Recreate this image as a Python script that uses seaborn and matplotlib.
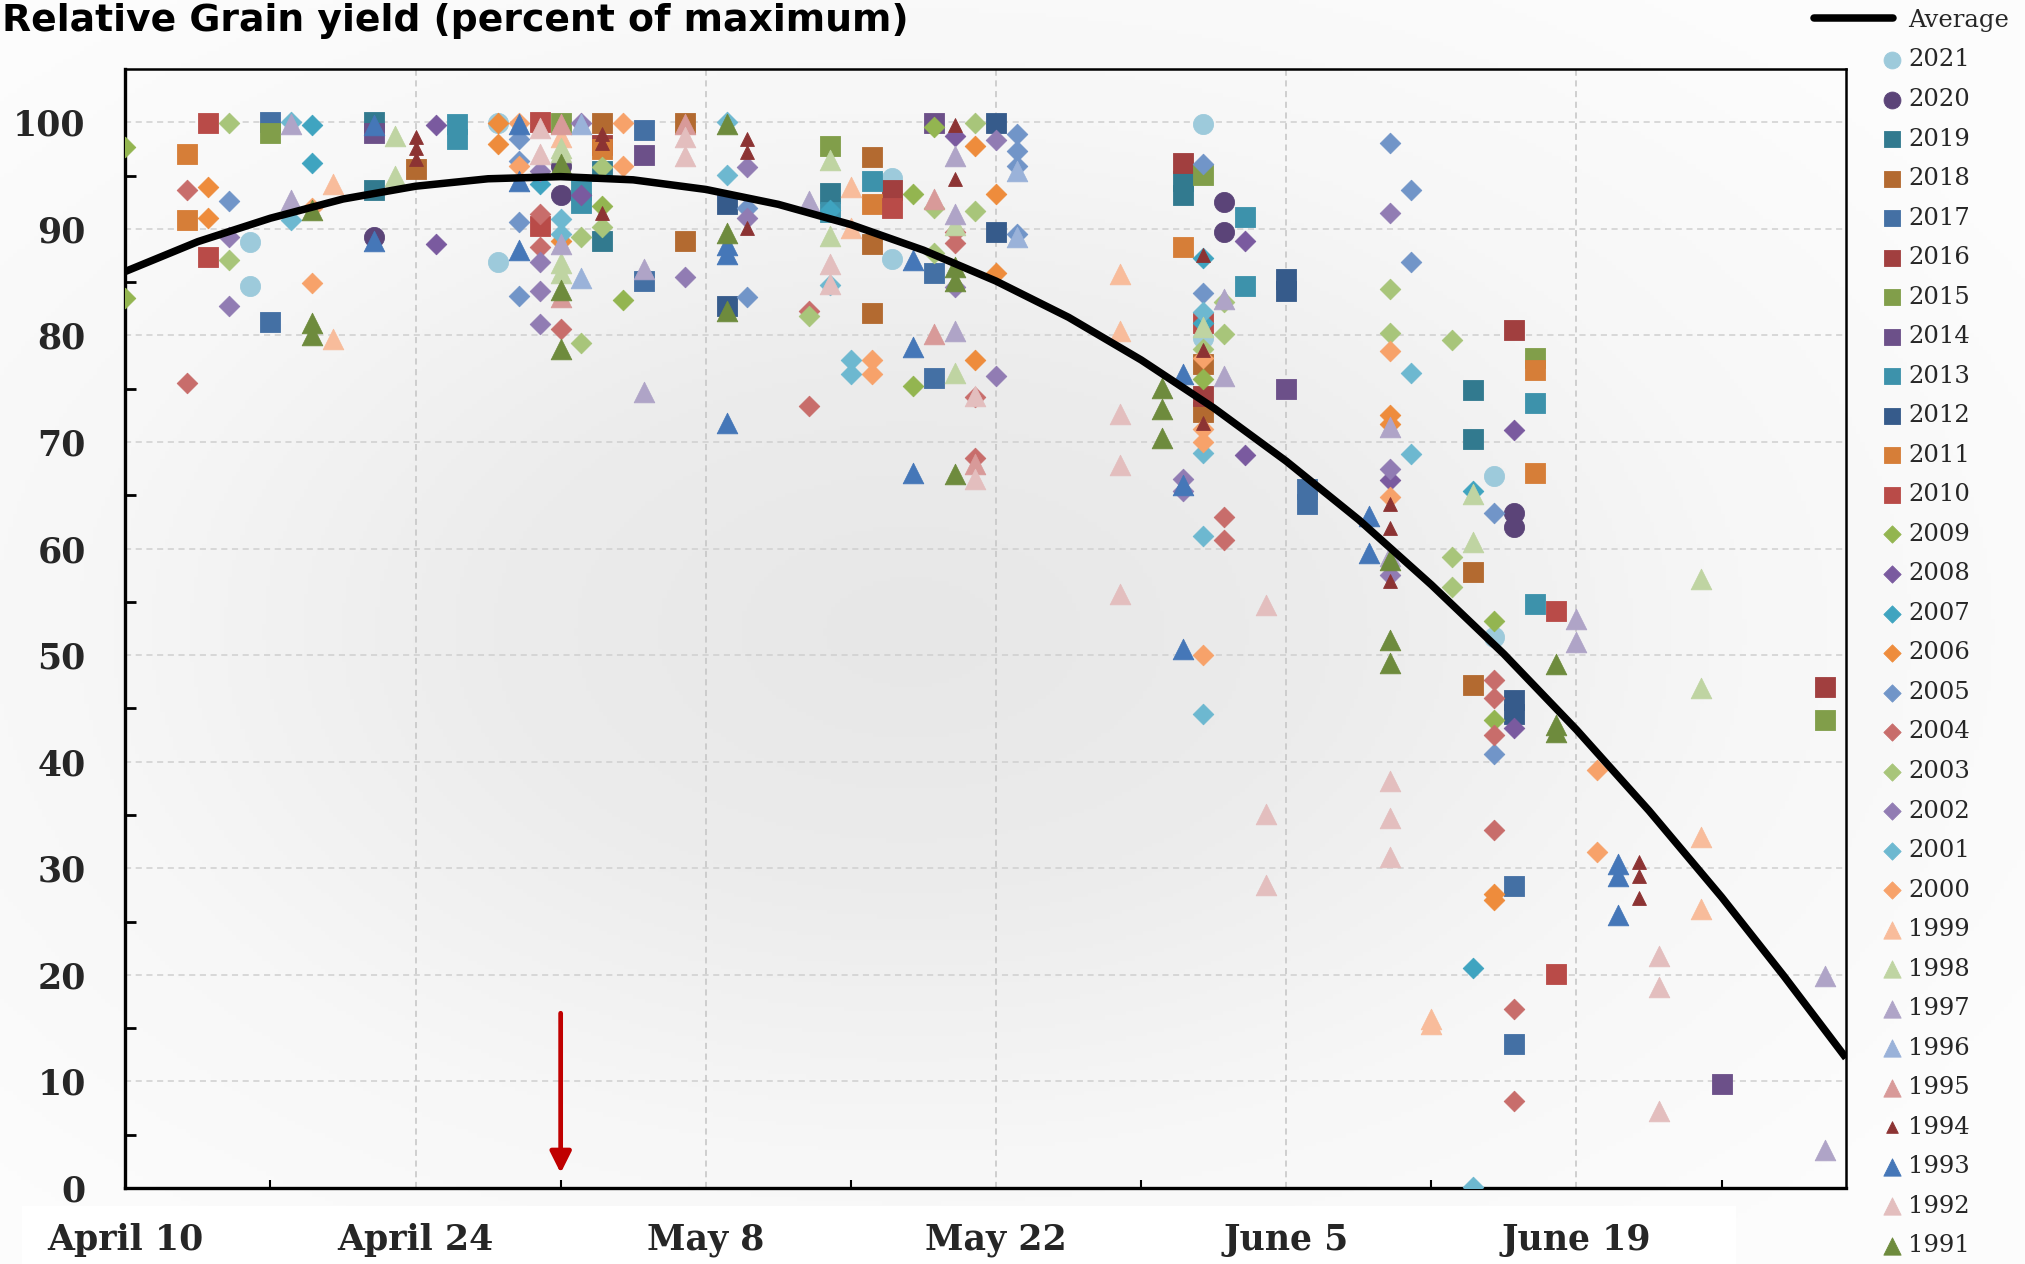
import numpy as np
import pandas as pd
import matplotlib
matplotlib.use("Agg")
import matplotlib.pyplot as plt
import seaborn as sns
from matplotlib.lines import Line2D
from matplotlib.patches import Rectangle
from matplotlib.colors import LinearSegmentedColormap

sns.set_theme(style="white")
plt.rcParams["font.family"] = ["DejaVu Serif"]

# ---- data: (planting day after April 10, relative yield %) per season ----
y2021 = [(6, 88.8), (6, 84.6), (18, 99.9), (18, 86.9), (37, 94.8), (37, 87.2),
         (52, 99.8), (52, 79.8), (66, 66.8), (66, 51.7)]
y2020 = [(12, 89.2), (21, 95.9), (21, 93.2), (53, 92.5), (53, 89.7), (67, 63.3), (67, 62.0)]
y2019 = [(12, 100.0), (12, 93.6), (23, 95.4), (23, 88.9), (34, 93.4), (51, 94.5), (51, 93.2),
         (65, 74.9), (65, 70.3)]
y2018 = [(14, 95.6), (23, 99.9), (27, 99.9), (27, 88.9), (36, 96.7), (36, 88.6), (36, 82.1),
         (52, 77.3), (52, 72.8), (65, 57.8), (65, 47.2)]
y2017 = [(7, 100.0), (7, 81.3), (25, 99.3), (25, 85.1), (39, 85.9), (39, 76.0), (57, 65.6),
         (57, 64.2), (67, 28.3), (67, 13.5)]
y2016 = [(23, 97.9), (37, 93.6), (51, 96.2), (52, 74.3), (67, 80.5), (82, 47.0)]
y2015 = [(7, 99.0), (21, 99.9), (34, 97.8), (52, 95.1), (68, 77.9), (82, 43.9)]
y2014 = [(12, 99.0), (25, 96.9), (39, 99.9), (56, 75.0), (77, 9.8)]
y2013 = [(16, 99.8), (16, 98.4), (22, 93.6), (22, 92.4), (34, 91.6), (36, 94.5), (54, 91.1),
         (54, 84.6), (68, 73.7), (68, 54.8)]
y2012 = [(29, 92.3), (29, 82.8), (42, 99.9), (42, 89.7), (56, 85.3), (56, 84.2), (67, 45.8),
         (67, 44.5)]
y2011 = [(3, 97.0), (3, 90.8), (23, 97.5), (36, 92.3), (51, 88.3), (68, 76.8), (68, 67.1)]
y2010 = [(4, 99.9), (4, 87.4), (20, 100.0), (20, 90.3), (37, 92.0), (52, 81.2), (69, 54.1),
         (69, 20.1)]
y2009 = [(0, 97.7), (0, 83.5), (23, 92.1), (24, 83.3), (38, 93.3), (38, 75.3), (39, 99.6),
         (52, 75.9), (66, 53.2), (66, 43.9)]
y2008 = [(15, 99.7), (15, 88.6), (22, 93.2), (40, 98.7), (54, 88.9), (54, 68.8), (61, 66.4),
         (67, 71.1), (67, 43.2)]
y2007 = [(9, 99.7), (9, 96.2), (20, 94.2), (34, 91.8), (52, 87.3), (52, 81.2), (65, 65.4),
         (65, 20.6)]
y2006 = [(4, 93.9), (4, 91.0), (18, 99.9), (18, 98.0), (21, 88.9), (41, 97.8), (41, 77.7),
         (42, 93.3), (42, 85.9), (61, 72.5), (61, 71.7), (66, 27.6), (66, 27.0)]
y2005 = [(5, 92.6), (19, 98.4), (19, 96.4), (19, 90.6), (19, 83.7), (30, 92.0), (30, 83.6),
         (43, 98.9), (43, 97.3), (43, 95.9), (43, 89.5), (52, 96.1), (52, 84.0), (61, 98.1),
         (62, 93.6), (62, 86.9), (66, 63.3), (66, 40.7)]
y2004 = [(3, 93.6), (3, 75.5), (20, 91.4), (20, 88.3), (21, 80.6), (33, 82.3), (33, 73.4),
         (40, 89.7), (40, 88.7), (41, 74.2), (41, 68.5), (53, 63.0), (53, 60.8), (66, 47.7),
         (66, 46.0), (66, 42.5), (66, 33.6), (67, 16.8), (67, 8.2)]
y2003 = [(5, 99.9), (5, 87.1), (22, 89.2), (22, 79.3), (23, 95.8), (23, 90.2), (33, 81.8),
         (39, 92.0), (39, 87.7), (41, 99.9), (41, 91.7), (52, 78.7), (53, 83.1), (53, 80.1),
         (61, 84.4), (61, 80.2), (64, 79.6), (64, 59.2), (64, 56.4)]
y2002 = [(5, 89.2), (5, 82.8), (20, 95.4), (20, 86.9), (20, 84.2), (20, 81.1), (22, 99.9),
         (27, 85.5), (30, 95.8), (30, 91.0), (40, 84.5), (42, 98.3), (42, 76.2), (51, 66.5),
         (51, 65.4), (61, 91.5), (61, 67.5), (61, 57.5)]
y2001 = [(8, 100.0), (8, 90.8), (21, 90.9), (21, 89.5), (29, 100.0), (29, 95.1), (34, 84.7),
         (35, 77.7), (35, 76.4), (52, 82.2), (52, 69.0), (52, 61.2), (52, 44.5), (62, 76.5),
         (62, 68.9), (65, 0.1)]
y2000 = [(9, 92.0), (9, 84.9), (19, 99.9), (19, 95.9), (24, 99.9), (24, 95.9), (36, 77.7),
         (36, 76.4), (52, 77.9), (52, 71.2), (52, 70.0), (52, 50.0), (61, 78.5), (61, 64.8),
         (71, 39.2), (71, 31.5)]
y1999 = [(10, 94.2), (10, 79.7), (21, 98.6), (35, 93.9), (35, 90.1), (48, 85.8), (48, 80.4),
         (63, 15.9), (63, 15.4), (76, 32.9), (76, 26.2)]
y1998 = [(13, 98.7), (13, 95.0), (21, 97.6), (21, 97.2), (21, 86.8), (21, 85.9), (34, 96.5),
         (34, 89.3), (40, 90.4), (40, 76.5), (52, 80.8), (65, 65.1), (65, 60.6), (76, 57.1),
         (76, 46.9)]
y1997 = [(8, 99.8), (8, 92.7), (21, 88.6), (25, 86.2), (25, 74.7), (33, 92.6), (40, 96.8),
         (40, 91.4), (40, 80.4), (53, 83.4), (53, 76.2), (61, 71.4), (61, 59.3), (70, 53.4),
         (70, 51.2), (82, 19.9), (82, 3.6)]
y1996 = [(22, 99.8), (22, 85.4), (43, 95.4), (43, 89.2)]
y1995 = [(21, 99.8), (21, 83.6), (27, 99.8), (39, 92.8), (39, 80.1), (41, 67.9)]
y1994 = [(14, 98.6), (14, 97.6), (14, 96.6), (23, 98.9), (23, 98.1), (23, 91.5), (30, 98.4),
         (30, 97.2), (30, 90.1), (40, 99.7), (40, 94.7), (52, 87.5), (52, 78.6), (52, 71.8),
         (61, 64.2), (61, 61.9), (61, 57.0), (73, 30.6), (73, 29.3), (73, 27.2)]
y1993 = [(12, 99.7), (12, 88.9), (19, 99.8), (19, 94.5), (19, 88.0), (29, 88.5), (29, 87.6),
         (29, 71.8), (38, 87.1), (38, 78.9), (38, 67.1), (51, 76.4), (51, 66.0), (51, 50.6),
         (60, 63.1), (60, 59.6), (72, 30.4), (72, 29.3), (72, 25.6)]
y1992 = [(20, 99.5), (20, 97.0), (27, 98.6), (27, 96.8), (34, 86.7), (34, 84.8), (41, 74.3),
         (41, 66.5), (48, 72.6), (48, 67.8), (48, 55.7), (55, 54.7), (55, 35.1), (55, 28.4),
         (61, 38.2), (61, 34.7), (61, 31.1), (74, 21.8), (74, 18.9), (74, 7.2)]
y1991 = [(9, 91.8), (9, 81.2), (9, 80.0), (21, 96.1), (21, 84.3), (21, 78.7), (29, 99.8),
         (29, 89.6), (29, 82.3), (40, 86.4), (40, 85.1), (40, 67.0), (50, 75.1), (50, 73.1),
         (50, 70.4), (61, 58.9), (61, 51.4), (61, 49.3), (69, 49.2), (69, 43.4), (69, 42.8)]

years = list(range(2021, 1990, -1))
year_points = [y2021, y2020, y2019, y2018, y2017, y2016, y2015, y2014, y2013, y2012, y2011,
               y2010, y2009, y2008, y2007, y2006, y2005, y2004, y2003, y2002, y2001, y2000,
               y1999, y1998, y1997, y1996, y1995, y1994, y1993, y1992, y1991]
year_colors = ["#9DCADB", "#5B4478", "#327A8F", "#B36A30", "#4470A4", "#A13F3F", "#819E4A",
               "#6C5089", "#3D92AB", "#365B8B", "#D67E38", "#B94B48",
               "#93B550", "#7A5A9F", "#3FA4C0", "#EE8C3C", "#7195C8", "#C86D6B", "#A8C57A",
               "#917CB3", "#6DB8D0", "#F7A26A",
               "#F8BC9B", "#BFD4A2", "#AFA4C7", "#9AB2D9", "#D89A99", "#8C3333", "#4577B8",
               "#E3BEBE", "#6E8B3D"]
year_markers = ["o"] * 2 + ["s"] * 10 + ["D"] * 10 + ["^"] * 9

# Average trend
avg_days = [0, 3.5, 7, 10.5, 14, 17.5, 21, 24.5, 28, 31.5, 35, 38.5, 42, 45.5, 49, 52.5,
            56, 59.5, 63, 66.5, 70, 73.5, 77, 80, 83]
avg_vals = [86.0, 88.8, 91.0, 92.8, 94.0, 94.7, 94.9, 94.6, 93.7, 92.3, 90.4, 88.0, 85.1,
            81.7, 77.7, 73.2, 68.2, 62.7, 56.6, 50.1, 43.0, 35.4, 27.3, 19.9, 12.2]

tick_days = [0, 14, 28, 42, 56, 70]
tick_labels = ["April 10", "April 24", "May 8", "May 22", "June 5", "June 19"]

rows = []
for yr, pts in zip(years, year_points):
    for d, v in pts:
        rows.append((yr, d, v))
df = pd.DataFrame(rows, columns=["year", "day", "yield"])

W, H = 2025, 1264
fig = plt.figure(figsize=(W / 100, H / 100), dpi=100)

# soft radial shading behind the whole chart
bg = fig.add_axes([0, 0, 1, 1], zorder=-10)
gy, gx = np.mgrid[0:1:300j, 0:1:480j]
r = np.sqrt(((gx - 0.45) / 0.62) ** 2 + ((gy - 0.5) / 0.62) ** 2)
bg_cmap = LinearSegmentedColormap.from_list("bgshade", ["#e7e7e7", "#ececec", "#f7f7f7", "#fcfcfc"])
bg.imshow(np.clip(r, 0, 1), cmap=bg_cmap, extent=[0, 1, 0, 1], aspect="auto", origin="lower")
bg.axis("off")

# white band under the date labels
fig.add_artist(Rectangle((22 / W, 0), (1736 - 22) / W, (H - 1206) / H, transform=fig.transFigure,
                         facecolor="white", edgecolor="none", zorder=-5))

ax = fig.add_axes([125.3 / W, 1 - 1188 / H, (1846 - 125.3) / W, (1188 - 69) / H])
ax.set_facecolor("none")

handles = []
for yr, col, mk in zip(years, year_colors, year_markers):
    sub = df[df["year"] == yr]
    if mk == "D":
        size = 110
    elif mk == "^":
        size = 100 if yr == 1994 else 220
    else:
        size = 210
    sns.scatterplot(data=sub, x="day", y="yield", marker=mk, color=col, s=size,
                    edgecolor=col, linewidth=0.6, ax=ax, zorder=3, legend=False)
    h = ax.collections[-1]
    h.set_label(str(yr))
    handles.append(h)

sns.lineplot(x=avg_days, y=avg_vals, color="black", linewidth=5.4, ax=ax, zorder=6,
             sort=False, legend=False, solid_joinstyle="round", solid_capstyle="butt")

ax.annotate("", xy=(21, 1.4), xytext=(21, 16.4),
            arrowprops=dict(arrowstyle="-|>", color="#C00000", lw=3.4, mutation_scale=32,
                            shrinkA=0, shrinkB=0), zorder=7)

ax.set_xlim(0, 83)
ax.set_ylim(0, 105)
ax.set_xlabel("")
ax.set_ylabel("")

ax.set_yticks(range(0, 101, 10))
ax.set_yticks(range(5, 101, 10), minor=True)
ax.set_xticks(tick_days)
ax.set_xticklabels(tick_labels)
ax.set_xticks([7, 21, 35, 49, 63, 77], minor=True)

ax.grid(False)
for v in range(10, 101, 10):
    ax.axhline(v, color="#cfcfcf", lw=1.1, ls=(0, (4, 3)), zorder=1)
for d in tick_days[1:]:
    ax.axvline(d, color="#c4c4c4", lw=1.1, ls=(0, (4, 3)), zorder=1)

ax.tick_params(axis="y", which="major", direction="inout", length=19, width=2, color="black",
               pad=19, labelsize=25)
ax.tick_params(axis="y", which="minor", direction="in", length=8, width=2, color="black", left=True)
ax.tick_params(axis="x", which="major", direction="inout", length=14, width=1.5, color="black",
               pad=18.5, labelsize=25)
ax.tick_params(axis="x", which="minor", direction="in", length=6, width=1.5, color="black", bottom=True)
for lab in ax.get_xticklabels() + ax.get_yticklabels():
    lab.set_fontweight("bold")
    lab.set_family("DejaVu Serif")

for side in ["left", "bottom"]:
    ax.spines[side].set_linewidth(2.4)
    ax.spines[side].set_color("black")
for side in ["top", "right"]:
    ax.spines[side].set_linewidth(1.8)
    ax.spines[side].set_color("black")

fig.text(0.001, 1 - 3 / H, "Relative Grain yield (percent of maximum)", ha="left", va="top",
         fontsize=27.2, fontweight="bold", family="DejaVu Sans", color="black")

avg_handle = Line2D([0], [0], color="black", lw=5.4)
fig.legend([avg_handle], ["Average"], loc="upper left", bbox_to_anchor=(1814 / W, 1 - 8.5 / H),
           frameon=False, fontsize=17.5, handlelength=3.25, handletextpad=0.62,
           borderpad=0, borderaxespad=0)
fig.legend(handles, [str(y) for y in years], loc="upper left",
           bbox_to_anchor=(1879.8 / W, 1 - 48.5 / H), frameon=False, fontsize=17.5,
           handlelength=1.0, handletextpad=0.16, labelspacing=0.68, borderpad=0,
           borderaxespad=0, scatterpoints=1, markerscale=0.84)

fig.savefig("out.png", dpi=100)
